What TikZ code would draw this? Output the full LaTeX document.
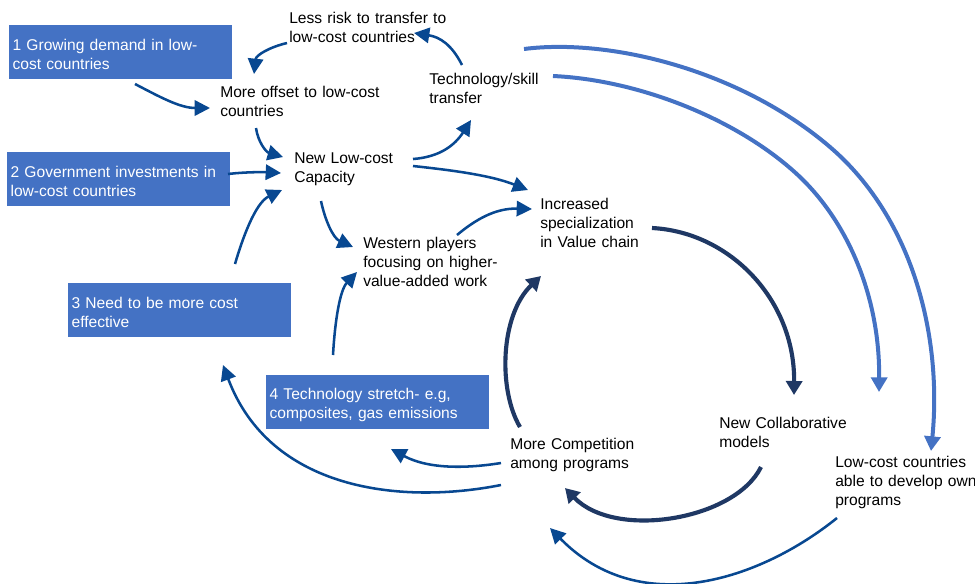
\documentclass[tikz,border=0pt]{standalone}
\usepackage{fontspec}
\setmainfont{Liberation Sans}
\usetikzlibrary{arrows.meta}
\definecolor{boxblue}{RGB}{68,114,196}
\definecolor{arrblue}{RGB}{8,72,145}
\definecolor{darkarc}{RGB}{31,56,100}
\definecolor{lightarc}{RGB}{68,114,196}
\newcommand{\boxstrut}{\rule{0pt}{12pt}}
\begin{document}
\begin{tikzpicture}[x=0.75pt,y=-0.75pt,
  lbl/.style={anchor=base west, inner sep=0pt, align=left, text width=150pt,
    font=\fontsize{11.7pt}{14.25pt}\selectfont},
  box/.style={anchor=north west, fill=boxblue, text=white, align=left,
    text width=162pt, inner xsep=2.5pt, inner ysep=0pt, minimum height=40.5pt,
    font=\fontsize{11.7pt}{14.25pt}\selectfont},
  conn/.style={draw=arrblue, line width=1.9pt, -{Triangle[length=11.5pt,width=11.5pt]}},
  darkconn/.style={draw=darkarc, line width=3.1pt, -{Triangle[length=10.5pt,width=12pt]}},
  lightconn/.style={draw=lightarc, line width=3pt, -{Triangle[length=11pt,width=12pt]}}
]
\useasboundingbox (0,0) rectangle (975,583);

% boxes
\node[box] (b1) at (9,25) {\boxstrut 1 Growing demand in low-\\cost countries};
\node[box] (b2) at (7,152) {\boxstrut 2 Government investments in\\low-cost countries};
\node[box] (b3) at (68,283) {\boxstrut 3 Need to be more cost\\effective};
\node[box] (b4) at (266,375) {\boxstrut 4 Technology stretch- e.g,\\composites, gas emissions};

% labels
\node[lbl] (risk) at (289,23) {Less risk to transfer to\\low-cost countries};
\node[lbl] (offset) at (220,97) {More offset to low-cost\\countries};
\node[lbl] (tech) at (429,84) {Technology/skill\\transfer};
\node[lbl] (cap) at (294,163) {New Low-cost\\Capacity};
\node[lbl] (spec) at (540,209) {Increased\\specialization\\in Value chain};
\node[lbl] (west) at (363,248) {Western players\\focusing on higher-\\value-added work};
\node[lbl] (collab) at (719,428) {New Collaborative\\models};
\node[lbl] (comp) at (510,449) {More Competition\\among programs};
\node[lbl] (own) at (835,467) {Low-cost countries\\able to develop own\\programs};

% connector end points
\coordinate (techTop) at (462,65);   \coordinate (riskIn) at (414,33);
\coordinate (riskOut) at (287,43);   \coordinate (offsetTop) at (254,74);
\coordinate (b1Out) at (135,84);     \coordinate (offsetIn) at (210,108);
\coordinate (offsetOut) at (256,128);\coordinate (capInA) at (283,157);
\coordinate (b2Out) at (228,174);    \coordinate (capInB) at (281,173);
\coordinate (b3Out) at (235,264);    \coordinate (capInC) at (282,190);
\coordinate (capOutA) at (413,159);  \coordinate (techIn) at (471,120);
\coordinate (capOutB) at (413,166);  \coordinate (specInA) at (528,190);
\coordinate (capOutC) at (321,201);  \coordinate (westInA) at (353,247);
\coordinate (westOut) at (457,235);  \coordinate (specInB) at (532,209);
\coordinate (b4Out) at (333,355);    \coordinate (westInB) at (357,272);
\coordinate (specOut) at (652,228);  \coordinate (collabIn) at (794,395);
\coordinate (collabOut) at (761,467);\coordinate (compInA) at (565,488);
\coordinate (compOut) at (520,427);  \coordinate (specInC) at (541,276);
\coordinate (arcA) at (524,49);      \coordinate (ownIn) at (931,451);
\coordinate (arcB) at (553,76);      \coordinate (arcBEnd) at (879,392);
\coordinate (compOutA) at (501,463); \coordinate (b4In) at (391,449);
\coordinate (compOutB) at (501,485); \coordinate (b3In) at (223,365);
\coordinate (ownOut) at (837,518);   \coordinate (compInB) at (550,528);

% thin blue connectors
\draw[conn] (techTop) .. controls (452,45) and (440,37) .. (riskIn);
\draw[conn] (riskOut) .. controls (270,47) and (256,55) .. (offsetTop);
\draw[conn] (b1Out) .. controls (160,97) and (180,108) .. (offsetIn);
\draw[conn] (offsetOut) .. controls (258,142) and (266,152) .. (capInA);
\draw[conn] (b2Out) .. controls (245,172) and (262,172) .. (capInB);
\draw[conn] (b3Out) .. controls (242,240) and (255,203) .. (capInC);
\draw[conn] (capOutA) .. controls (440,157) and (455,145) .. (techIn);
\draw[conn] (capOutB) .. controls (450,170) and (490,175) .. (specInA);
\draw[conn] (capOutC) .. controls (325,220) and (333,238) .. (westInA);
\draw[conn] (westOut) .. controls (475,220) and (495,208) .. (specInB);
\draw[conn] (b4Out) .. controls (335,320) and (340,290) .. (westInB);
\draw[conn] (compOutA) .. controls (470,468) and (430,470) .. (b4In);
\draw[conn] (compOutB) .. controls (400,505) and (270,490) .. (b3In);
\draw[conn] (ownOut) .. controls (760,580) and (640,620) .. (compInB);

% dark cycle
\draw[darkconn] (specOut) .. controls (730,232) and (795,300) .. (collabIn);
\draw[darkconn] (collabOut) .. controls (735,520) and (615,540) .. (compInA);
\draw[darkconn] (compOut) .. controls (498,390) and (500,315) .. (specInC);

% light long arcs
\draw[lightconn] (arcA) .. controls (610,38) and (740,70) .. (830,147)
  .. controls (915,220) and (942,340) .. (ownIn);
\draw[lightconn] (arcB) .. controls (640,80) and (740,120) .. (800,177)
  .. controls (850,225) and (880,300) .. (arcBEnd);
\end{tikzpicture}
\end{document}
